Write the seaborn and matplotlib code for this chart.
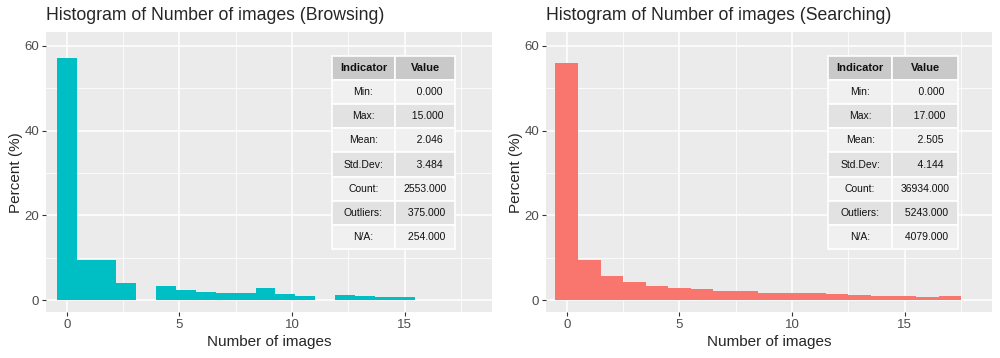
import numpy as np
import pandas as pd
import seaborn as sns
import matplotlib.pyplot as plt
from matplotlib.ticker import MultipleLocator

# ==============================
# DATA
# ==============================
n_bins = 18

browse_max = 15
browse_pct = [57.1, 9.43, 9.43, 4.0, 0.0, 3.3, 2.36, 1.89, 1.65, 1.65,
              2.83, 1.42, 0.94, 0.0, 1.18, 0.94, 0.71, 0.71]

search_max = 17
search_pct = [55.9, 9.43, 5.66, 4.25, 3.30, 2.91, 2.59, 2.12, 2.12, 1.65,
              1.65, 1.65, 1.42, 1.10, 0.94, 0.94, 0.71, 0.94]

indicators = ["Min:", "Max:", "Mean:", "Std.Dev:", "Count:", "Outliers:", "N/A:"]
browse_stats = [0.0, 15.0, 2.046, 3.484, 2553.0, 375.0, 254.0]
search_stats = [0.0, 17.0, 2.505, 4.144, 36934.0, 5243.0, 4079.0]

teal = "#00BFC4"
salmon = "#F8766D"

# ==============================
# STYLE
# ==============================
sns.set_theme(style="darkgrid", rc={
    "axes.facecolor": "#EBEBEB",
    "grid.color": "white",
    "axes.edgecolor": "#EBEBEB",
})
plt.rcParams["font.family"] = ["Liberation Sans", "DejaVu Sans"]


def draw_panel(ax, pct, vmax, stats, color, title, tbl_bbox, col_w):
    width = vmax / (n_bins - 1)
    centers = np.arange(n_bins) * width
    edges = list(np.append(centers - width / 2, centers[-1] + width / 2))
    df = pd.DataFrame({"x": centers, "pct": pct})
    sns.histplot(data=df, x="x", weights="pct", bins=edges, stat="count",
                 color=color, alpha=1, linewidth=0, ax=ax, zorder=2)

    ax.set_xlim(-0.92, 18.86)
    ax.set_ylim(-2.85, 63.2)
    ax.xaxis.set_major_locator(MultipleLocator(5))
    ax.xaxis.set_minor_locator(MultipleLocator(2.5))
    ax.yaxis.set_major_locator(MultipleLocator(20))
    ax.yaxis.set_minor_locator(MultipleLocator(10))
    ax.grid(which="major", color="white", linewidth=1.1)
    ax.grid(which="minor", color="white", linewidth=0.55)
    ax.set_axisbelow(True)
    for s in ax.spines.values():
        s.set_visible(False)
    ax.tick_params(axis="both", which="major", length=3, width=0.8,
                   color="#333333", labelsize=9.5, labelcolor="#4D4D4D", pad=2,
                   bottom=True, left=True)
    ax.tick_params(axis="both", which="minor", length=0)
    ax.set_xlabel("Number of images", fontsize=11, labelpad=3)
    ax.set_ylabel("Percent (%)", fontsize=11, labelpad=1)
    ax.set_title(title, fontsize=12.7, loc="left", x=0.0, pad=9)

    # summary table
    vals = [f"{v:.3f}" for v in stats]
    w = max(len(v) for v in vals)
    vals = [v.rjust(w) for v in vals]
    cells = [[a, b] for a, b in zip(indicators, vals)]
    tbl = ax.table(cellText=cells, colLabels=["Indicator", "Value"],
                   cellLoc="center", bbox=tbl_bbox, colWidths=col_w, zorder=5)
    tbl.auto_set_font_size(False)
    for (r, c), cell in tbl.get_celld().items():
        cell.set_edgecolor("white")
        cell.set_linewidth(1.2)
        cell.get_text().set_fontsize(7.5)
        cell.get_text().set_color("#111111")
        if r == 0:
            cell.set_facecolor("#C9C9C9")
            cell.get_text().set_fontweight("bold")
            cell.get_text().set_fontsize(8)
        elif r % 2 == 1:
            cell.set_facecolor("#F0F0F0")
        else:
            cell.set_facecolor("#E2E2E2")


fig = plt.figure(figsize=(10, 3.58), dpi=100)
ax1 = fig.add_axes([0.046, 0.128, 0.4457, 0.782])
ax2 = fig.add_axes([0.546, 0.128, 0.4457, 0.782])

draw_panel(ax1, browse_pct, browse_max, browse_stats, teal,
           "Histogram of Number of images (Browsing)",
           [0.641, 0.226, 0.277, 0.689], [63.6, 60.0])
draw_panel(ax2, search_pct, search_max, search_stats, salmon,
           "Histogram of Number of images (Searching)",
           [0.633, 0.226, 0.292, 0.689], [64.0, 66.0])

plt.savefig("out.png", dpi=100)
